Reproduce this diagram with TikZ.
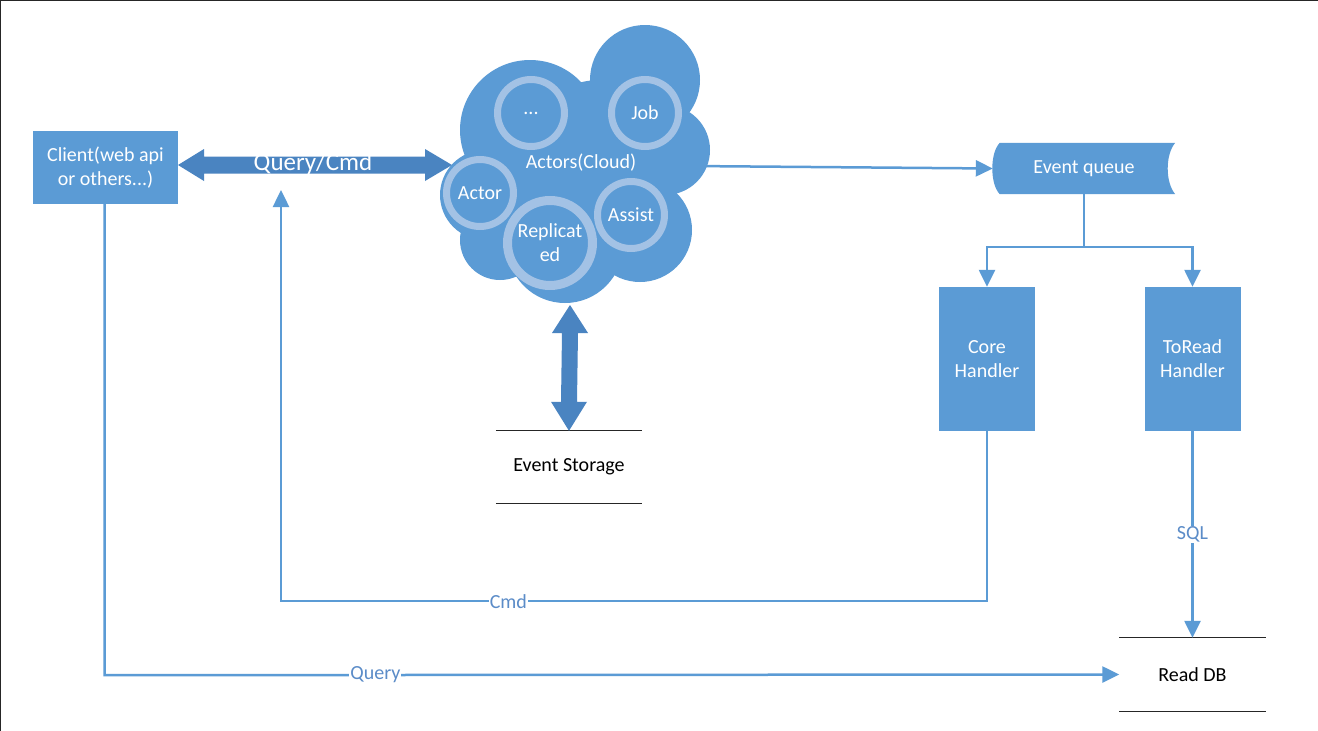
\documentclass[tikz,border=0pt]{standalone}
\usepackage{fontspec}
\setmainfont{Carlito}
\usetikzlibrary{arrows.meta,calc}
\definecolor{boxblue}{HTML}{5B9BD5}
\definecolor{darkarrow}{HTML}{4A84C1}
\definecolor{ringc}{HTML}{A3C2E5}
\definecolor{lblblue}{HTML}{5B8CC8}
\tikzset{
  txt/.style={font=\fontsize{20}{24}\selectfont},
  bluebox/.style={txt, fill=boxblue, text=white, align=center, inner sep=0pt},
  ring/.style={circle, draw=ringc, line width=7pt, fill=boxblue, text=white, inner sep=0pt, minimum size=67pt, txt, align=center},
  conn/.style={draw=boxblue, line width=2.5pt, -{Triangle[length=17pt,width=16pt]}},
  plainconn/.style={draw=boxblue, line width=2.5pt},
  lbl/.style={txt, fill=white, text=lblblue, inner sep=1pt},
  store/.style={txt, text=black, minimum width=146pt, inner sep=0pt},
  storeline/.style={draw=black!85, line width=1.3pt},
}
\begin{document}
\begin{tikzpicture}[x=1pt,y=-1pt]
\useasboundingbox (0,0) rectangle (1318,731);
\fill[white] (0,0) rectangle (1318,731);
\draw[line width=2pt, black!85] (0,731) -- (0,0) -- (1318,0);

% cloud
\begin{scope}[fill=boxblue]
\fill (645,80) circle (55);
\fill (665,150) circle (45);
\fill (530,130) circle (70);
\fill (485,195) circle (45);
\fill (565,245) circle (58);
\fill (640,230) circle (52);
\fill (600,160) circle (80);
\fill (500,240) circle (40);
\end{scope}
\coordinate (cloudE) at (690,166);
\coordinate (cloudS) at (570,305);
\coordinate (cloudW) at (452,165);

\node[ring] (dots) at (531,113) {...};
\node[ring] (job) at (645,113) {Job};
\node[ring] (actor) at (480,193) {Actor};
\node[ring] (assist) at (631,215) {Assist};
\node[ring, minimum size=85pt, line width=9pt] (repl) at (550,243) {Replicat\\ed};
\node[txt, text=white] (cloudlbl) at (581,163) {Actors(Cloud)};

% client
\node[bluebox, minimum width=145pt, minimum height=73pt] (client) at (105.5,167.5) {Client(web api\\or others...)};

% thick horizontal double arrow
\coordinate (hl) at (178,165);
\fill[darkarrow] (hl) -- ++(26,-16) -- ++(0,7.5) -- ($(cloudW)+(-27,-8.5)$) -- ($(cloudW)+(-27,-16)$) -- (cloudW)
  -- ($(cloudW)+(-27,16)$) -- ($(cloudW)+(-27,8.5)$) -- ($(hl)+(26,8.5)$) -- ($(hl)+(26,16)$) -- cycle;
\node[text=white, font=\fontsize{25}{30}\selectfont] (qc) at (313,164) {Query/Cmd};

% event storage
\node[store, minimum height=72pt] (es) at (569,467) {Event Storage};
\draw[storeline] ($(es.north west)$) -- ($(es.north east)$);
\draw[storeline] ($(es.south west)$) -- ($(es.south east)$);

% thick vertical double arrow
\fill[darkarrow] (cloudS) -- ++(18,28) -- ++(-10,0) -- ($(es.north)+(8,-29)$) -- ($(es.north)+(18,-29)$) -- (es.north)
  -- ($(es.north)+(-18,-29)$) -- ($(es.north)+(-8,-29)$) -- ($(cloudS)+(-8,28)$) -- ($(cloudS)+(-18,28)$) -- cycle;

% event queue
\node[txt, text=white, minimum width=182pt, minimum height=51pt, inner sep=0pt] (queue) at (1084,168.5) {};
\fill[boxblue] ($(queue.north west)+(7,0)$) -- (queue.north east)
  .. controls ($(queue.north east)+(-10,12)$) and ($(queue.south east)+(-10,-12)$) .. (queue.south east)
  -- ($(queue.south west)+(7,0)$)
  .. controls ($(queue.south west)+(-3,-10)$) and ($(queue.north west)+(-3,10)$) .. ($(queue.north west)+(7,0)$) -- cycle;
\node[txt, text=white] at (queue) {Event queue};

% handlers
\node[bluebox, minimum width=96pt, minimum height=144pt] (core) at (987,359) {Core\\Handler};
\node[bluebox, minimum width=96pt, minimum height=144pt] (toread) at (1192.5,359) {ToRead\\Handler};

% read db
\node[store, minimum height=73pt] (readdb) at (1192.5,674.5) {Read DB};
\draw[storeline] (readdb.north west) -- (readdb.north east);
\draw[storeline] (readdb.south west) -- (readdb.south east);

% connectors
\draw[conn] (cloudE) -- (queue.west);
\draw[plainconn] (queue.south) -- ++(0,53) coordinate (jn);
\draw[conn] (jn) -| (core.north);
\draw[conn] (jn) -| (toread.north);

\coordinate (cmdtip) at (281,190);
\draw[conn] (core.south) -- ++(0,170) -- node[lbl, pos=0.678] {Cmd} ++(-706,0) -- (cmdtip);

\draw[conn] (client.south -| 104.5,0) -- ++(0,471) -- node[lbl, pos=0.267] {Query} (readdb.west);

\draw[conn] (toread.south) -- node[lbl, pos=0.5] {SQL} (readdb.north);
\end{tikzpicture}
\end{document}
